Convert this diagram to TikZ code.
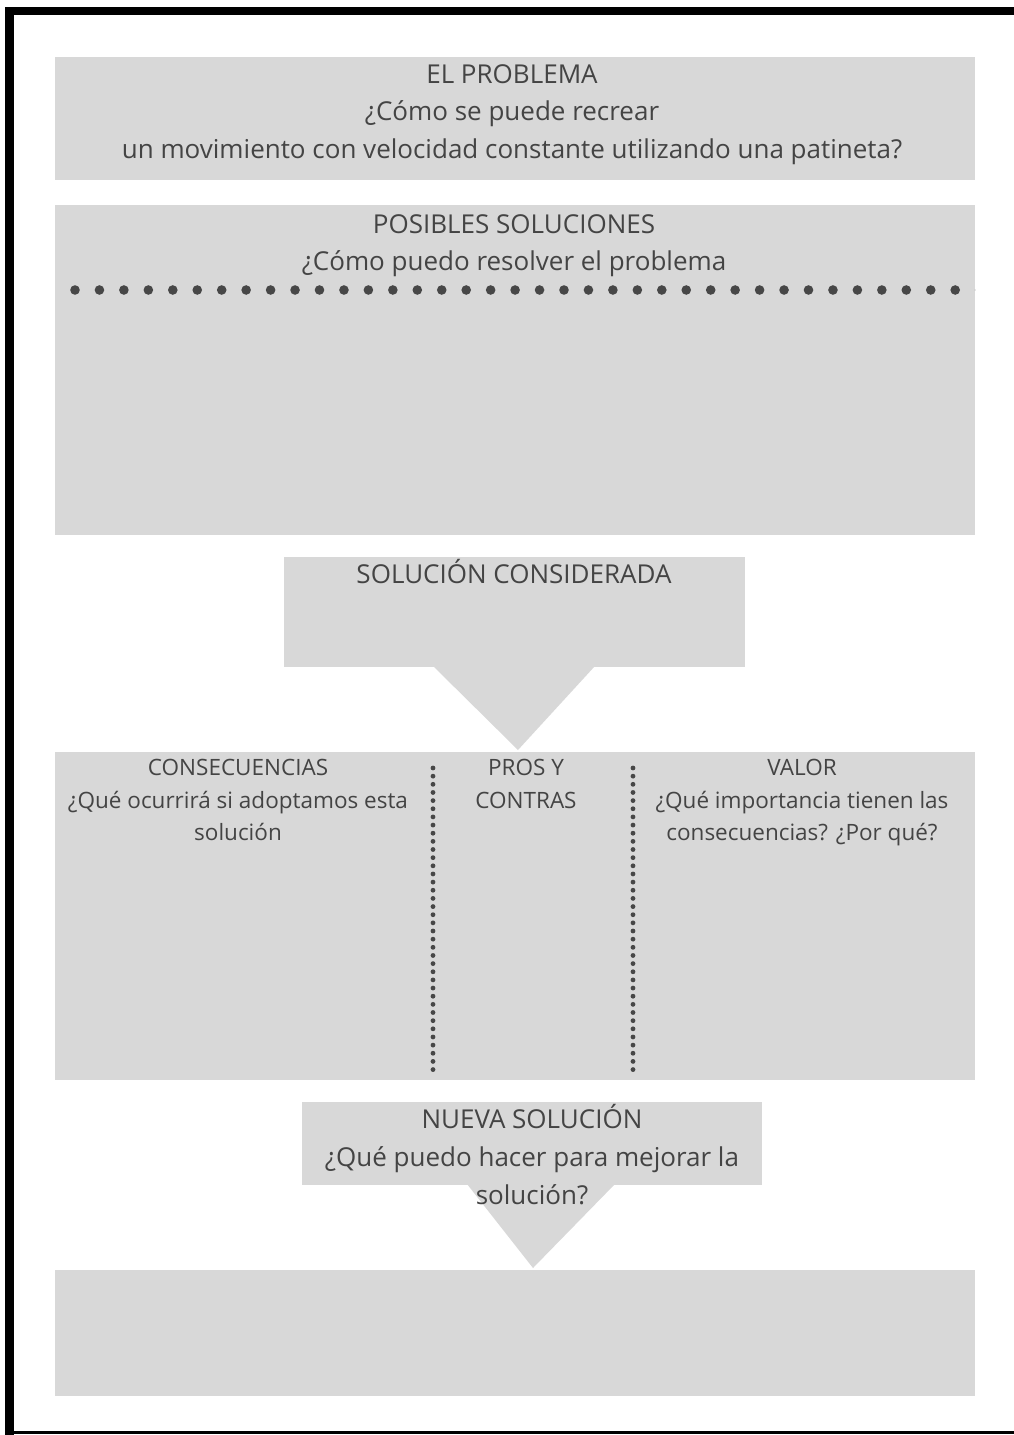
\documentclass[tikz,border=0pt]{standalone}
\usepackage{fontspec}
\setmainfont{Open Sans}
\usepackage{tikz}
\definecolor{fondo}{HTML}{D8D8D8}
\definecolor{letra}{HTML}{444444}
\definecolor{punto}{HTML}{474747}

\begin{document}
\begin{tikzpicture}[x=1pt, y=-1pt,
        caja/.style={fill=fondo, inner sep=0, outer sep=0},
        texto/.style={text=letra, align=center, inner sep=0, anchor=north, font=\fontsize{26}{37.5}\selectfont},
        textochico/.style={text=letra, align=center, inner sep=0, anchor=north, font=\fontsize{22.5}{32.5}\selectfont}]
        \useasboundingbox (0,0) rectangle (1014,1435);
        % marco
        \fill[black] (5,7) rectangle (1014,15);
        \fill[black] (5,7) rectangle (14,1435);
        \fill[black] (5,1431) rectangle (1014,1434);

        \node[caja, minimum width=920, minimum height=123] (problema) at (515,118.5) {};
        \node[caja, minimum width=920, minimum height=330] (posibles) at (515,370) {};
        \node[caja, minimum width=461, minimum height=110] (considerada) at (514.5,612) {};
        \node[caja, minimum width=920, minimum height=328] (analisis) at (515,916) {};
        \node[caja, minimum width=460, minimum height=83] (nueva) at (532,1143.5) {};
        \node[caja, minimum width=920, minimum height=126] (final) at (515,1333) {};

        \fill[fondo] (433,666) -- (595,666) -- (518,750) -- cycle;
        \fill[fondo] (467,1184) -- (615,1184) -- (533,1268) -- cycle;

        \node[texto] (t1) at (512,64) {EL PROBLEMA\\¿Cómo se puede recrear\\un movimiento con velocidad constante utilizando una patineta?};
        \node[texto] (t2) at (514,214) {POSIBLES SOLUCIONES\\¿Cómo puedo resolver el problema};
        \node[texto] (t3) at (514,559) {SOLUCIÓN CONSIDERADA};
        \node[textochico] (t4) at (238,759) {CONSECUENCIAS\\¿Qué ocurrirá si adoptamos esta\\solución};
        \node[textochico] (t5) at (526,759) {PROS Y\\CONTRAS};
        \node[textochico] (t6) at (802,759) {VALOR\\¿Qué importancia tienen las\\consecuencias? ¿Por qué?};
        \node[texto, font=\fontsize{26}{38}\selectfont] (t7) at (532,1104) {NUEVA SOLUCIÓN\\¿Qué puedo hacer para mejorar la\\solución?};

        % puntos
        \begin{scope}
            \clip (posibles.north west) rectangle (posibles.south east);
            \foreach \i in {0,...,37}
                \fill[punto] (75+24.45*\i,290) circle (4.8);
        \end{scope}
        \foreach \j in {0,...,37} {
            \fill[punto] (433,768+8.15*\j) circle (2.4);
            \fill[punto] (633,768+8.15*\j) circle (2.4);
        }
    \end{tikzpicture}
\end{document}
